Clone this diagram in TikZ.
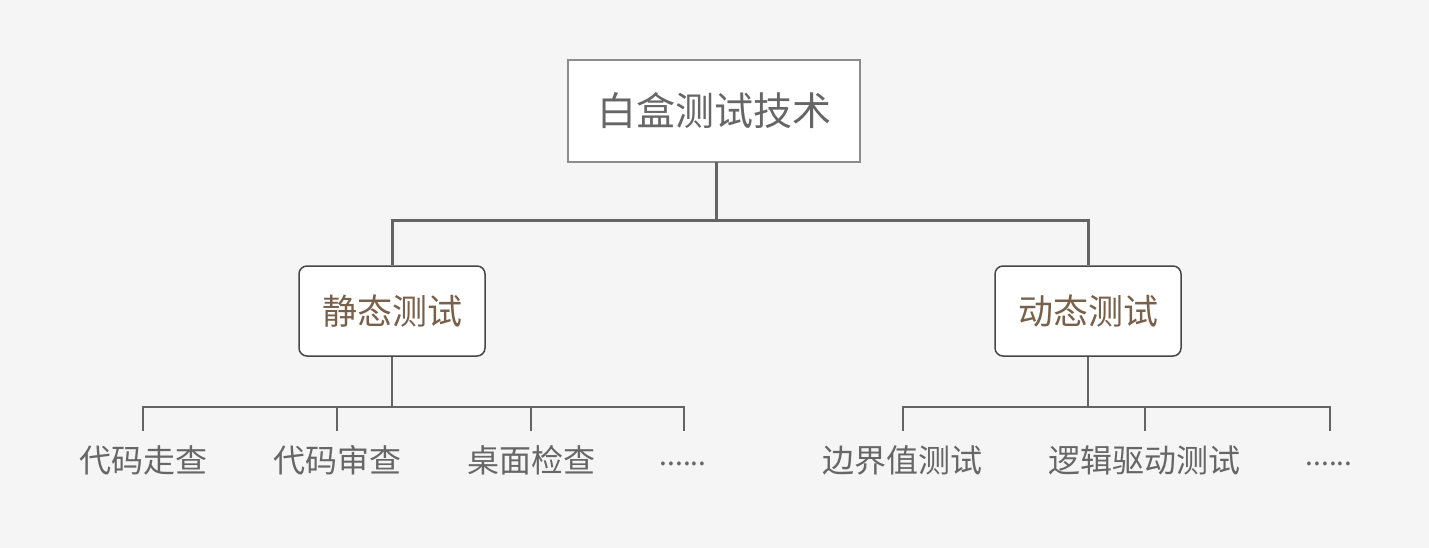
\documentclass[tikz,border=0pt]{standalone}
\usepackage{fontspec}
\setmainfont{Noto Sans CJK SC}
\definecolor{bg}{RGB}{245,245,245}
\definecolor{txt}{RGB}{102,102,102}
\definecolor{brown}{RGB}{120,96,74}
\definecolor{lin}{RGB}{100,100,100}
\definecolor{rootb}{RGB}{140,140,140}
\definecolor{boxb}{RGB}{70,70,70}
\tikzset{
  rootbox/.style={draw=rootb,line width=1.8pt,fill=white,minimum width=292pt,minimum height=102pt,inner sep=0pt,text=txt,font=\fontsize{39pt}{44pt}\selectfont},
  midbox/.style={draw=boxb,line width=1.5pt,fill=white,rounded corners=8pt,minimum width=186pt,minimum height=90pt,inner sep=0pt,text=brown,font=\fontsize{35pt}{40pt}\selectfont},
  leaf/.style={text=txt,inner sep=0pt,font=\fontsize{32pt}{36pt}\selectfont},
  dots/.style={text=txt,inner sep=0pt,font=\fontsize{28pt}{32pt}\selectfont},
  thick3/.style={draw=lin,line width=3pt},
  thin2/.style={draw=lin,line width=2pt},
}
\begin{document}
\begin{tikzpicture}[x=1pt,y=-1pt]
\fill[bg] (0,0) rectangle (1429,548);
\useasboundingbox (0,0) rectangle (1429,548);
\node[rootbox] (root) at (714,111) {白盒测试技术};
\node[midbox] (s) at (392,311) {静态测试};
\node[midbox] (d) at (1088,311) {动态测试};
\coordinate (rb) at (716,162);
\coordinate (j) at (716,220);
\draw[thick3] (rb) -- (j) -| (s.north);
\draw[thick3] (j) -| (d.north);
\coordinate (s1) at (143,431);
\coordinate (s2) at (337,431);
\coordinate (s3) at (531,431);
\coordinate (s4) at (684,431);
\coordinate (d1) at (903,431);
\coordinate (d2) at (1145,431);
\coordinate (d3) at (1330,431);
\draw[thin2] (s.south) -- (392,407);
\draw[thin2] (s1) -- (143,407) -- (684,407) -- (s4);
\draw[thin2] (s2) -- (337,407);
\draw[thin2] (s3) -- (531,407);
\draw[thin2] (d.south) -- (1088,407);
\draw[thin2] (d1) -- (903,407) -- (1330,407) -- (d3);
\draw[thin2] (d2) -- (1145,407);
\node[leaf] (l1) at (143,460) {代码走查};
\node[leaf] (l2) at (337,460) {代码审查};
\node[leaf] (l3) at (531,460) {桌面检查};
\node[dots] (l4) at (683,464) {......};
\node[leaf] (r1) at (902,460) {边界值测试};
\node[leaf] (r2) at (1144,460) {逻辑驱动测试};
\node[dots] (r3) at (1329,464) {......};
\end{tikzpicture}
\end{document}
